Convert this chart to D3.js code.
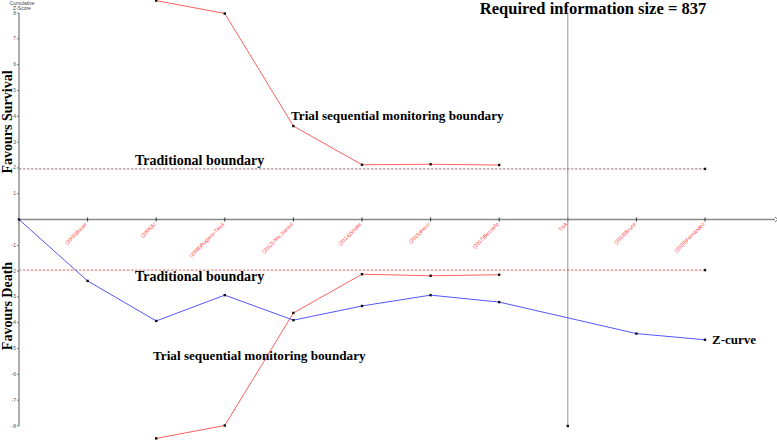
<!DOCTYPE html>
<html><head><meta charset="utf-8">
<script src="https://cdn.jsdelivr.net/npm/d3@7"></script>
<style>body{margin:0;background:#fff}svg{display:block}</style>
</head><body>
<script>
const trials = ["", "(2003)Bauer", "(2005)Li", "(2008)Rugiero-Tieck", "(2013) Ma Jiansui", "(2014)Shafer", "(2015)Pecci", "(2017)Bezzello", "TSA", "(2019)Bruce", "(2020)Fernández"];
const zCurve = [0, -2.38, -3.93, -2.93, -3.9, -3.35, -2.93, -3.2, null, -4.42, -4.66];
const upperTSMB = [null, null, 8.48, 7.98, 3.62, 2.12, 2.14, 2.11, null, null, null];
const lowerTSMB = [null, null, -8.48, -7.98, -3.62, -2.12, -2.18, -2.14, null, null, null];
const tradBoundary = 1.96;
const risIndex = 8;
const risLabel = "Required information size = 837";
const yTicks = [8,7,6,5,4,3,2,1,-1,-2,-3,-4,-5,-6,-7,-8];

const W = 777, H = 440;
const svg = d3.select("body").append("svg").attr("width", W).attr("height", H);
const x = d3.scaleLinear().domain([0, 10]).range([19, 705]);
const y = d3.scaleLinear().domain([-8, 8]).range([426, 13]);
const serif = "'Liberation Serif','Times New Roman',serif";
const DOT = 2.4;
function dot(cx, cy) {
  svg.append("rect").attr("x", cx - DOT / 2).attr("y", cy - DOT / 2).attr("width", DOT).attr("height", DOT).attr("fill", "#111");
}

// y axis
svg.append("line").attr("x1", x(0)).attr("x2", x(0)).attr("y1", y(8)).attr("y2", y(-8))
  .attr("stroke", "#777").attr("stroke-width", 1.2);
const yt = svg.append("g");
yTicks.forEach(t => {
  yt.append("line").attr("x1", x(0) - 2).attr("x2", x(0)).attr("y1", y(t)).attr("y2", y(t)).attr("stroke", "#777");
  yt.append("text").attr("x", x(0) - 3).attr("y", y(t) + 1.5).attr("text-anchor", "end")
    .attr("font-size", 5).attr("font-family", "Liberation Sans, Arial").attr("fill", "#555").text(t);
});
svg.append("text").attr("x", 22).attr("y", 5).attr("text-anchor", "middle").attr("font-size", 5)
  .attr("font-family", "Liberation Sans, Arial").attr("fill", "#444").text("Cumulative");
svg.append("text").attr("x", 22).attr("y", 10).attr("text-anchor", "middle").attr("font-size", 5)
  .attr("font-family", "Liberation Sans, Arial").attr("fill", "#444").text("Z-Score");

// x axis
const xEnd = 775;
svg.append("line").attr("x1", x(0)).attr("x2", xEnd).attr("y1", y(0)).attr("y2", y(0))
  .attr("stroke", "#888").attr("stroke-width", 1.5);
svg.append("path").attr("d", `M${xEnd},${y(0)-2.5}L${xEnd+3},${y(0)}L${xEnd},${y(0)+2.5}`)
  .attr("fill", "none").attr("stroke", "#777").attr("stroke-width", 1);
trials.forEach((lab, i) => {
  if (i === 0) return;
  svg.append("line").attr("x1", x(i)).attr("x2", x(i)).attr("y1", y(0) - 2).attr("y2", y(0) + 2).attr("stroke", "#333");
  svg.append("text").attr("transform", `translate(${x(i)},${y(0) + 5}) rotate(-45)`)
    .attr("text-anchor", "end").attr("font-size", 5.2).attr("font-family", "Liberation Sans, Arial")
    .attr("fill", "#ff4040").text(lab);
});

// required information size vertical line
svg.append("line").attr("x1", x(risIndex)).attr("x2", x(risIndex)).attr("y1", y(8)).attr("y2", y(-8))
  .attr("stroke", "#a09090").attr("stroke-width", 1);
dot(x(risIndex), y(-8));

// traditional boundaries
[tradBoundary, -tradBoundary].forEach(v => {
  svg.append("line").attr("x1", x(0)).attr("x2", x(10)).attr("y1", y(v)).attr("y2", y(v))
    .attr("stroke", v > 0 ? "#8a4a4a" : "#d84040").attr("stroke-width", 0.8).attr("stroke-dasharray", "2.5,1.5");
  dot(x(10), y(v));
});

// TSMB
const line = d3.line().defined(d => d.v !== null).x(d => x(d.i)).y(d => y(d.v));
[upperTSMB, lowerTSMB].forEach(arr => {
  const pts = arr.map((v, i) => ({i, v}));
  svg.append("path").attr("d", line(pts)).attr("fill", "none").attr("stroke", "#ff6060").attr("stroke-width", 1);
  pts.filter(d => d.v !== null).forEach(d => dot(x(d.i), y(d.v)));
});

// Z curve
const zpts = zCurve.map((v, i) => ({i, v})).filter(d => d.v !== null);
svg.append("path").attr("d", d3.line().x(d => x(d.i)).y(d => y(d.v))(zpts))
  .attr("fill", "none").attr("stroke", "#5555ff").attr("stroke-width", 1);
zpts.forEach(d => dot(x(d.i), y(d.v)));

// annotations
function label(t, xx, yy, fs, anchor) {
  svg.append("text").attr("x", xx).attr("y", yy).attr("font-family", serif).attr("font-weight", "bold")
    .attr("font-size", fs).attr("text-anchor", anchor || "start").attr("fill", "#000").text(t);
}
label(risLabel, 593, 14, 16.5, "middle");
label("Trial sequential monitoring boundary", 291, 120, 13.2);
label("Traditional boundary", 135, 165, 14);
label("Traditional boundary", 135, 281, 14);
label("Trial sequential monitoring boundary", 153, 360, 13.2);
label("Z-curve", 712, 344, 13);

svg.append("text").attr("transform", "translate(12,122) rotate(-90)").attr("text-anchor", "middle")
  .attr("font-family", serif).attr("font-weight", "bold").attr("font-size", 14).text("Favours Survival");
svg.append("text").attr("transform", "translate(12,306) rotate(-90)").attr("text-anchor", "middle")
  .attr("font-family", serif).attr("font-weight", "bold").attr("font-size", 14).text("Favours Death");
</script>
</body></html>
